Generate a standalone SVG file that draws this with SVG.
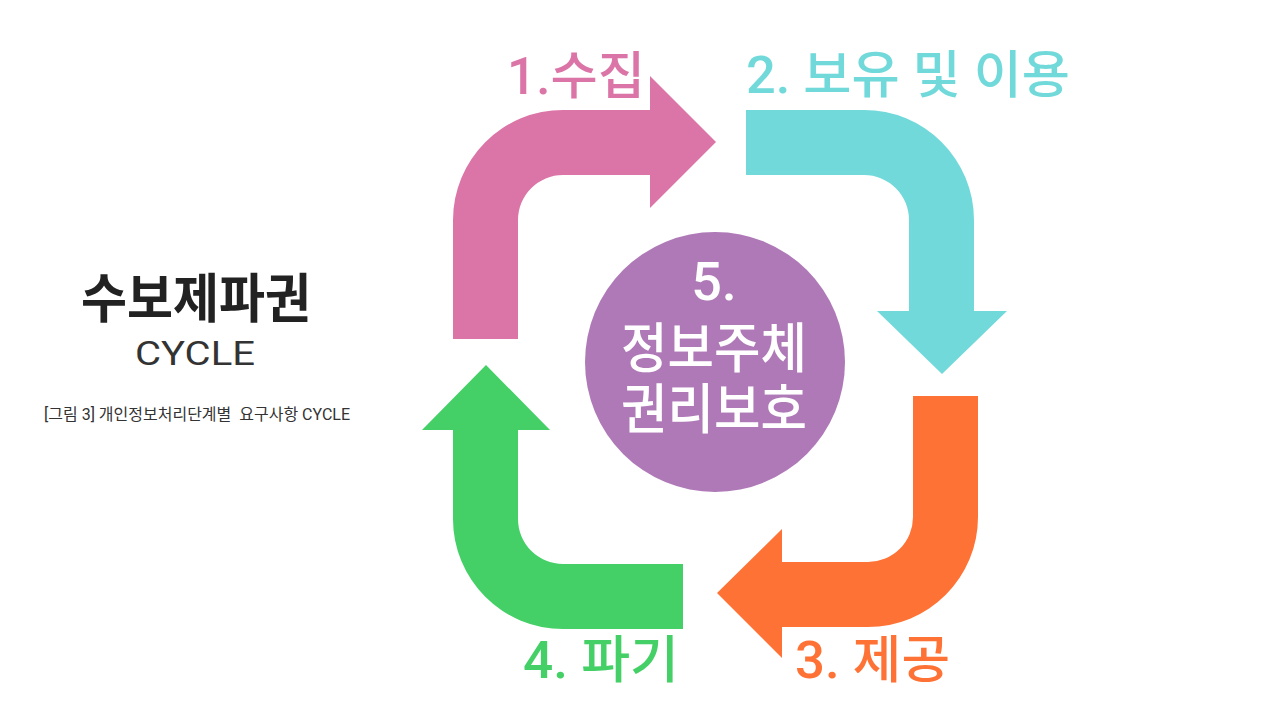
<svg xmlns="http://www.w3.org/2000/svg" width="1280" height="720" viewBox="0 0 1280 720">
<style>
.k{font-family:Roboto,"Noto Sans CJK KR","Noto Sans",sans-serif;}
.lbl{font-size:51px;font-weight:500;}
.ctr{font-size:54px;font-weight:500;fill:#ffffff;text-anchor:middle;}
</style>
<rect width="1280" height="720" fill="#ffffff"/>
<g id="connectors">
  <path id="arrow1" fill="#DC75A7" d="M453 339 V220 A110 110 0 0 1 563 110 H650 V76 L716 142 L650 208 V175 H563 A45 45 0 0 0 518 220 V339 Z"/>
  <path id="arrow2" fill="#72D9DB" d="M746 110 H864 A110 110 0 0 1 974 220 V311 H1007 L942 374 L877 311 H909 V220 A45 45 0 0 0 864 175 H746 Z"/>
  <path id="arrow3" fill="#FF7236" d="M978 396 V517 A110 110 0 0 1 868 627 H782 V658 L717 593 L782 529 V562 H868 A45 45 0 0 0 913 517 V396 Z"/>
  <path id="arrow4" fill="#44D066" d="M683 629 H563 A110 110 0 0 1 453 519 V430 H422 L486 365 L550 430 H518 V519 A45 45 0 0 0 563 564 H683 Z"/>
</g>
<g id="step1"><text class="k lbl" x="507" y="94" fill="#DC75A7" textLength="138" lengthAdjust="spacingAndGlyphs">1.수집</text></g>
<g id="step2"><text class="k lbl" x="746" y="93" fill="#72D9DB" textLength="324" lengthAdjust="spacingAndGlyphs" xml:space="preserve">2. 보유 및 이용</text></g>
<g id="step3"><text class="k lbl" x="795" y="678" fill="#FF7236" textLength="155" lengthAdjust="spacingAndGlyphs">3. 제공</text></g>
<g id="step4"><text class="k lbl" x="523" y="678" fill="#44D066" textLength="156" lengthAdjust="spacingAndGlyphs">4. 파기</text></g>
<g id="center">
  <circle cx="715" cy="362" r="130" fill="#AF79B8"/>
  <text class="k ctr" x="714" y="300" font-size="52">5.</text>
  <text class="k ctr" x="714" y="368" textLength="186" lengthAdjust="spacingAndGlyphs">정보주체</text>
  <text class="k ctr" x="714" y="429" textLength="186" lengthAdjust="spacingAndGlyphs">권리보호</text>
</g>
<g id="title">
  <text class="k" x="196" y="318" font-size="53" font-weight="700" fill="#222222" text-anchor="middle" textLength="230" lengthAdjust="spacingAndGlyphs">수보제파권</text>
  <text class="k" x="195" y="365" font-size="33" font-weight="400" fill="#333333" text-anchor="middle" textLength="120" lengthAdjust="spacingAndGlyphs">CYCLE</text>
  <text class="k" x="44" y="420" font-size="16" font-weight="400" fill="#333333" textLength="306" lengthAdjust="spacingAndGlyphs" xml:space="preserve">[그림 3] 개인정보처리단계별  요구사항 CYCLE</text>
</g>
</svg>
